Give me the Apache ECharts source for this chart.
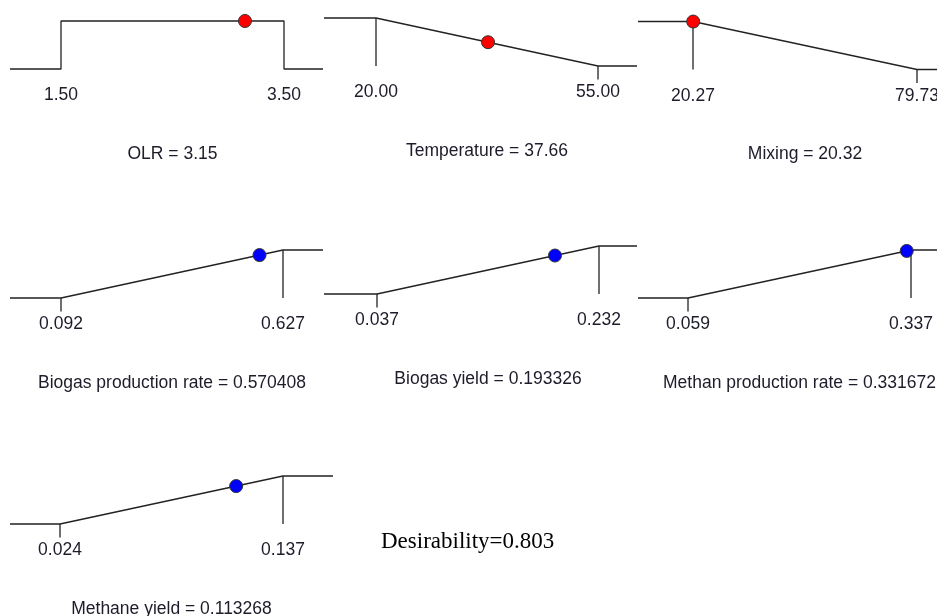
<!DOCTYPE html>
<html>
<head>
<meta charset="utf-8">
<script src="https://cdn.jsdelivr.net/npm/echarts@6/dist/echarts.min.js"></script>
<style>
    html, body { margin: 0; padding: 0; background: #fff; }
    #chart { width: 937px; height: 616px; }
</style>
</head>
<body>
<div id="chart"></div>
<script>
// ramps: 3 factors (red) + 4 responses (blue)
var names = ['OLR', 'Temperature', 'Mixing', 'Biogas production rate', 'Biogas yield', 'Methan production rate', 'Methane yield'];
var lows = [1.50, 20.00, 20.27, 0.092, 0.037, 0.059, 0.024];
var highs = [3.50, 55.00, 79.73, 0.627, 0.232, 0.337, 0.137];
var values = [3.15, 37.66, 20.32, 0.570408, 0.193326, 0.331672, 0.113268];
var lowText = ['1.50', '20.00', '20.27', '0.092', '0.037', '0.059', '0.024'];
var highText = ['3.50', '55.00', '79.73', '0.627', '0.232', '0.337', '0.137'];
var valueText = ['3.15', '37.66', '20.32', '0.570408', '0.193326', '0.331672', '0.113268'];
var goals = ['range', 'minimize', 'minimize', 'maximize', 'maximize', 'maximize', 'maximize'];
var kinds = ['factor', 'factor', 'factor', 'response', 'response', 'response', 'response'];
var desirability = '0.803';

// layout, pixels
var edgeL = [10, 324, 638, 10, 324, 638, 10];
var edgeR = [323, 637, 937, 323, 637, 937, 333];
var lowPx = [61, 376, 693, 61, 377, 688, 60];
var highPx = [284, 598, 917, 283, 599, 911, 283];
var basePx = [69, 66, 69.5, 298, 294, 298, 524];
var rampH = 48;
var tickLen = 0.28;   // short tick below the ramp, in desirability units
var yMin = -0.3;

var textColor = '#1c1c2a';
var lineColor = '#222';
var sansFont = 'Arial, "Liberation Sans", sans-serif';

function desir(i, v) {
    var d;
    if (goals[i] == 'range') d = (v >= lows[i] && v <= highs[i]) ? 1 : 0;
    else if (goals[i] == 'minimize') d = (highs[i] - v) / (highs[i] - lows[i]);
    else d = (v - lows[i]) / (highs[i] - lows[i]);
    return Math.max(0, Math.min(1, d));
}

var grids = [], xAxes = [], yAxes = [], series = [], texts = [];

for (var i = 0; i < names.length; i++) {
    var lo = lows[i], hi = highs[i];
    var span = hi - lo, pxSpan = highPx[i] - lowPx[i];
    var xL = lo - (lowPx[i] - edgeL[i]) / pxSpan * span;
    var xR = hi + (edgeR[i] - highPx[i]) / pxSpan * span;

    grids.push({
        left: edgeL[i],
        top: basePx[i] - rampH,
        width: edgeR[i] - edgeL[i],
        height: rampH * (1 - yMin),
        outerBoundsMode: 'none'   // let labels run off the edge like the original
    });

    (function (i) {
        xAxes.push({
            gridIndex: i,
            type: 'value',
            min: xL,
            max: xR,
            position: 'bottom',
            axisLine: { show: false },
            axisTick: { show: false },
            splitLine: { show: false },
            axisLabel: {
                customValues: [lows[i], highs[i]],
                formatter: function (v) { return Math.abs(v - lows[i]) < Math.abs(v - highs[i]) ? lowText[i] : highText[i]; },
                margin: 17.5 + yMin * rampH,
                fontSize: 17.5,
                fontFamily: sansFont,
                color: textColor
            }
        });
    })(i);
    yAxes.push({ gridIndex: i, type: 'value', min: yMin, max: 1, show: false });

    var segs = [];
    if (goals[i] == 'range') {
        segs.push([[xL, 0], [lo, 0], [lo, 1], [hi, 1], [hi, 0], [xR, 0]]);
    } else if (goals[i] == 'minimize') {
        segs.push([[xL, 1], [lo, 1], [hi, 0], [xR, 0]]);
        segs.push([[lo, 1], [lo, 0]]);
        segs.push([[hi, 0], [hi, -tickLen]]);
    } else {
        segs.push([[xL, 0], [lo, 0], [hi, 1], [xR, 1]]);
        segs.push([[lo, 0], [lo, -tickLen]]);
        segs.push([[hi, 1], [hi, 0]]);
    }
    segs.forEach(function (s) {
        series.push({
            type: 'line',
            xAxisIndex: i,
            yAxisIndex: i,
            data: s,
            symbol: 'none',
            clip: false,
            silent: true,
            lineStyle: { color: lineColor, width: 1.3 }
        });
    });

    series.push({
        type: 'scatter',
        xAxisIndex: i,
        yAxisIndex: i,
        data: [[values[i], desir(i, values[i])]],
        symbolSize: 13,
        clip: false,
        z: 5,
        itemStyle: {
            color: kinds[i] == 'factor' ? '#ff0000' : '#0000ff',
            borderColor: '#333',
            borderWidth: 1,
            opacity: 1
        }
    });

    // panel caption, centred between the two limits
    texts.push({
        type: 'text',
        x: (lowPx[i] + highPx[i]) / 2,
        y: basePx[i] + 85,
        style: {
            text: names[i] + ' = ' + valueText[i],
            font: '17.5px ' + sansFont,
            fill: textColor,
            textAlign: 'center',
            textVerticalAlign: 'middle'
        }
    });
}

texts.push({
    type: 'text',
    x: 381,
    y: 542,
    style: {
        text: 'Desirability=' + desirability,
        font: '23px "Times New Roman", "Liberation Serif", serif',
        fill: '#000',
        textAlign: 'left',
        textVerticalAlign: 'middle'
    }
});

var chart = echarts.init(document.getElementById('chart'));
chart.setOption({
    animation: false,
    backgroundColor: '#fff',
    grid: grids,
    xAxis: xAxes,
    yAxis: yAxes,
    series: series,
    graphic: texts
});
window.addEventListener('resize', function () { chart.resize(); });
</script>
</body>
</html>
